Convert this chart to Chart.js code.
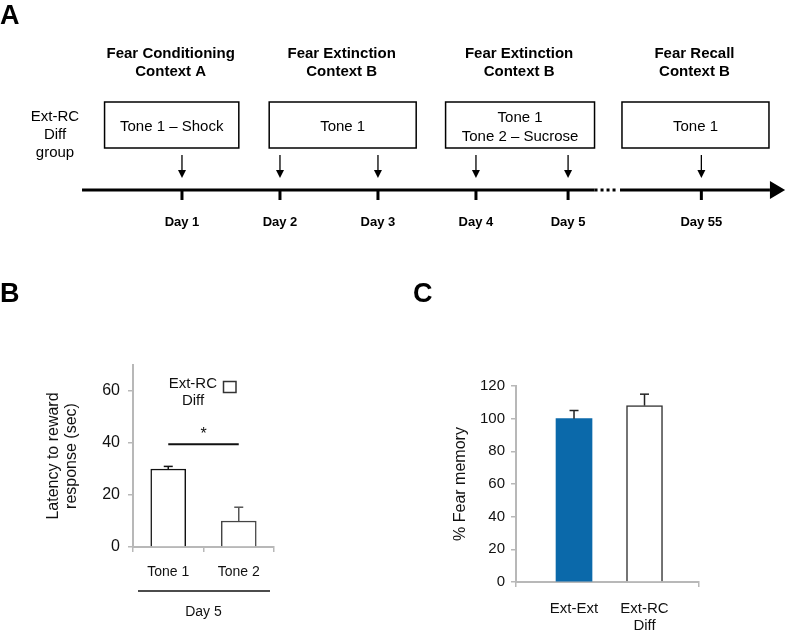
<!DOCTYPE html>
<html>
<head>
<meta charset="utf-8">
<script src="https://cdn.jsdelivr.net/npm/chart.js@4.4.1/dist/chart.umd.min.js"></script>
<style>
  body { margin: 0; background: #fff; }
  #wrap { position: relative; width: 787px; height: 630px; overflow: hidden; }
  canvas { position: absolute; }
  #cA { left: 0; top: 0; }
  #cB { left: 0; top: 280px; }
  #cC { left: 390px; top: 280px; }
</style>
</head>
<body>
<div id="wrap">
  <canvas id="cA" width="787" height="260"></canvas>
  <canvas id="cB" width="300" height="350"></canvas>
  <canvas id="cC" width="397" height="350"></canvas>
</div>
<script>
const FONT = "'Liberation Sans', Arial, sans-serif";
const AXIS = '#b8b8b8';
const INK = '#111';

// --- panel A : protocol timeline (positions in "slot" units on the x scale)
const phaseTitles = [['Fear Conditioning', 'Context A'], ['Fear Extinction', 'Context B'], ['Fear Extinction', 'Context B'], ['Fear Recall', 'Context B']];
const phaseBoxText = [['Tone 1 – Shock'], ['Tone 1'], ['Tone 1', 'Tone 2 – Sucrose'], ['Tone 1']];
const phaseStart = [0.21, 1.89, 3.69, 5.49];
const phaseEnd = [1.58, 3.39, 5.21, 6.99];
const dayLabels = ['Day 1', 'Day 2', 'Day 3', 'Day 4', 'Day 5', 'Day 55'];
const daySlot = [1, 2, 3, 4, 4.94, 6.3];
const groupLabel = ['Ext-RC', 'Diff', 'group'];

// --- panel B : latency to reward response
const toneLabels = ['Tone 1', 'Tone 2'];
const latency = [30, 10];
const latencyErr = [1, 5.3];
const latencyTicks = [0, 20, 40, 60];
const sigPair = [0, 1];
const sigLevel = 39.5;
const legendB = ['Ext-RC', 'Diff'];
const dayGroupB = 'Day 5';

// --- panel C : % fear memory
const groupsC = ['Ext-Ext', ['Ext-RC', 'Diff']];
const fearMemory = [100, 108];
const fearErr = [5, 7];
const fearTicks = [0, 20, 40, 60, 80, 100, 120];

function line(ctx, x0, y0, x1, y1) {
  ctx.beginPath(); ctx.moveTo(x0, y0); ctx.lineTo(x1, y1); ctx.stroke();
}

function errorBars(errs, colors) {
  return {
    id: 'errorBars',
    afterDatasetsDraw(chart) {
      const { ctx, scales: { y } } = chart;
      const ds = chart.data.datasets[0];
      chart.getDatasetMeta(0).data.forEach((bar, i) => {
        const raw = ds.data[i];
        const v = typeof raw === 'object' ? raw.y : raw;
        const top = y.getPixelForValue(v + errs[i]);
        ctx.save();
        ctx.strokeStyle = colors[i];
        ctx.lineWidth = 1.5;
        line(ctx, bar.x, bar.y, bar.x, top);
        line(ctx, bar.x - 4.5, top, bar.x + 4.5, top);
        ctx.restore();
      });
    }
  };
}

function panelLetter(ctx, t, x, y) {
  ctx.save();
  ctx.fillStyle = '#000';
  ctx.font = 'bold 27px ' + FONT;
  ctx.textAlign = 'left';
  ctx.textBaseline = 'alphabetic';
  ctx.fillText(t, x, y);
  ctx.restore();
}

const common = {
  responsive: false,
  animation: false,
  events: [],
  plugins: { legend: { display: false }, tooltip: { enabled: false } }
};

// ---------- A
const timeline = {
  id: 'timeline',
  afterDraw(chart) {
    const { ctx, scales: { x, y } } = chart;
    const X = v => x.getPixelForValue(v);
    const Y = v => y.getPixelForValue(v);
    panelLetter(ctx, 'A', 0, 24);
    ctx.save();
    ctx.fillStyle = '#000';
    ctx.strokeStyle = '#000';
    ctx.textAlign = 'center';
    ctx.textBaseline = 'middle';

    ctx.font = '15px ' + FONT;
    groupLabel.forEach((t, i) => ctx.fillText(t, 55, Y(117 + i * 18)));

    phaseTitles.forEach((lines, i) => {
      const x0 = X(phaseStart[i]), x1 = X(phaseEnd[i]);
      const cx = (x0 + x1) / 2;
      ctx.font = 'bold 15px ' + FONT;
      lines.forEach((t, k) => ctx.fillText(t, cx - 1, Y(54 + k * 18)));
      ctx.lineWidth = 1.5;
      ctx.strokeRect(x0, Y(102), x1 - x0, Y(148) - Y(102));
      ctx.font = '15px ' + FONT;
      const bt = phaseBoxText[i];
      bt.forEach((t, k) => ctx.fillText(t, cx, Y(127 + (k - (bt.length - 1) / 2) * 19)));
    });

    // axis of time
    const ly = Y(190);
    ctx.lineWidth = 3;
    line(ctx, X(-0.02), ly, X(5.21), ly);
    ctx.setLineDash([3, 3]);
    line(ctx, X(5.21), ly, X(5.45), ly);
    ctx.setLineDash([]);
    line(ctx, X(5.47), ly, X(7.0), ly);
    ctx.beginPath();
    ctx.moveTo(X(7.0), ly - 9);
    ctx.lineTo(X(7.155), ly);
    ctx.lineTo(X(7.0), ly + 9);
    ctx.closePath();
    ctx.fill();

    daySlot.forEach((d, i) => {
      const px = X(d);
      ctx.lineWidth = 3;
      line(ctx, px, ly, px, ly + 10);
      ctx.lineWidth = 1.3;
      line(ctx, px, Y(155), px, Y(171));
      ctx.beginPath();
      ctx.moveTo(px - 4, Y(170));
      ctx.lineTo(px + 4, Y(170));
      ctx.lineTo(px, Y(178));
      ctx.closePath();
      ctx.fill();
      ctx.font = 'bold 13px ' + FONT;
      ctx.fillText(dayLabels[i], px, Y(222));
    });
    ctx.restore();
  }
};

new Chart(document.getElementById('cA'), {
  type: 'scatter',
  data: { datasets: [{ data: [] }] },
  options: Object.assign({}, common, {
    layout: { padding: 0 },
    scales: {
      x: { type: 'linear', display: false, min: -0.857, max: 7.174 },
      y: { type: 'linear', display: false, min: 0, max: 260, reverse: true }
    }
  }),
  plugins: [timeline]
});

// ---------- B
const panelB = {
  id: 'panelB',
  afterDraw(chart) {
    const { ctx, chartArea: a, scales: { x, y } } = chart;
    panelLetter(ctx, 'B', 0, 22);
    ctx.save();
    ctx.fillStyle = INK;
    ctx.strokeStyle = INK;

    // significance bar
    const sy = y.getPixelForValue(sigLevel);
    const sx0 = x.getPixelForValue(sigPair[0]), sx1 = x.getPixelForValue(sigPair[1]);
    ctx.lineWidth = 2;
    line(ctx, sx0, sy, sx1, sy);
    ctx.font = '16px ' + FONT;
    ctx.textAlign = 'center';
    ctx.textBaseline = 'alphabetic';
    ctx.fillText('*', (sx0 + sx1) / 2, sy - 5);

    // legend
    ctx.font = '15px ' + FONT;
    ctx.textBaseline = 'middle';
    ctx.textAlign = 'right';
    ctx.fillText(legendB[0], a.left + 84, a.top + 19);
    ctx.textAlign = 'center';
    ctx.fillText(legendB[1], a.left + 60, a.top + 36);
    ctx.lineWidth = 1.5;
    ctx.strokeStyle = '#333';
    ctx.strokeRect(a.left + 90.5, a.top + 16.5, 12.5, 11);

    // day group
    ctx.strokeStyle = INK;
    ctx.lineWidth = 1.5;
    line(ctx, a.left + 5, a.bottom + 44, a.right - 4, a.bottom + 44);
    ctx.font = '14px ' + FONT;
    ctx.fillText(dayGroupB, (a.left + a.right) / 2, a.bottom + 65);
    ctx.restore();
  }
};

new Chart(document.getElementById('cB'), {
  type: 'bar',
  data: {
    labels: toneLabels,
    datasets: [{
      data: latency,
      backgroundColor: '#fff',
      borderColor: ['#111', '#444'],
      borderWidth: 1.5,
      barThickness: 35
    }]
  },
  options: Object.assign({}, common, {
    layout: { padding: { top: 85, right: 26, left: 0, bottom: 0 } },
    scales: {
      x: {
        afterFit: s => { s.height = 83; },
        grid: { drawOnChartArea: false, tickLength: 5, color: AXIS, lineWidth: 1.5, offset: true },
        border: { color: AXIS, width: 2 },
        ticks: { color: INK, font: { family: FONT, size: 14 }, padding: 12 }
      },
      y: {
        min: 0, max: 70,
        afterFit: s => { s.width = 133; },
        afterBuildTicks: s => { s.ticks = latencyTicks.map(v => ({ value: v })); },
        grid: { drawOnChartArea: false, tickLength: 5, color: AXIS, lineWidth: 1.5 },
        border: { color: AXIS, width: 2 },
        ticks: { color: INK, font: { family: FONT, size: 16 }, padding: 8 },
        title: {
          display: true,
          text: ['Latency to reward', 'response (sec)'],
          color: INK,
          font: { family: FONT, size: 16, lineHeight: 1.15 },
          padding: { top: 44, bottom: 0 }
        }
      }
    }
  }),
  plugins: [errorBars(latencyErr, ['#111', '#555']), panelB]
});

// ---------- C
new Chart(document.getElementById('cC'), {
  type: 'bar',
  data: {
    datasets: [{
      data: groupsC.map((g, i) => ({ x: i + 1, y: fearMemory[i] })),
      backgroundColor: ['#0b69aa', '#fff'],
      borderColor: ['#0b69aa', '#333'],
      borderWidth: [0, 1.5],
      barThickness: 36
    }]
  },
  options: Object.assign({}, common, {
    layout: { padding: { top: 106, right: 88, left: 0, bottom: 0 } },
    scales: {
      x: {
        type: 'linear',
        min: 0.177, max: 2.773,
        offset: false,
        afterFit: s => { s.height = 48; },
        afterBuildTicks: s => { s.ticks = [s.min, 1, 2, s.max].map(v => ({ value: v })); },
        grid: {
          offset: false, drawOnChartArea: false, tickLength: 5, lineWidth: 1.5,
          color: c => (c.tick && Number.isInteger(c.tick.value)) ? 'rgba(0,0,0,0)' : AXIS
        },
        border: { color: AXIS, width: 2 },
        ticks: {
          autoSkip: false, maxRotation: 0, padding: 13,
          color: INK, font: { family: FONT, size: 15, lineHeight: 1.15 },
          callback: v => Number.isInteger(v) ? groupsC[v - 1] : ''
        }
      },
      y: {
        min: 0, max: 120,
        afterFit: s => { s.width = 126; },
        afterBuildTicks: s => { s.ticks = fearTicks.map(v => ({ value: v })); },
        grid: { drawOnChartArea: false, tickLength: 5, color: AXIS, lineWidth: 1.5 },
        border: { color: AXIS, width: 2 },
        ticks: { color: INK, font: { family: FONT, size: 15 }, padding: 6 },
        title: {
          display: true,
          text: '% Fear memory',
          color: INK,
          font: { family: FONT, size: 16, lineHeight: 1.15 },
          padding: { top: 61, bottom: 0 }
        }
      }
    }
  }),
  plugins: [errorBars(fearErr, ['#222', '#222']), {
    id: 'letterC',
    afterDraw(chart) { panelLetter(chart.ctx, 'C', 23, 22); }
  }]
});
</script>
</body>
</html>
